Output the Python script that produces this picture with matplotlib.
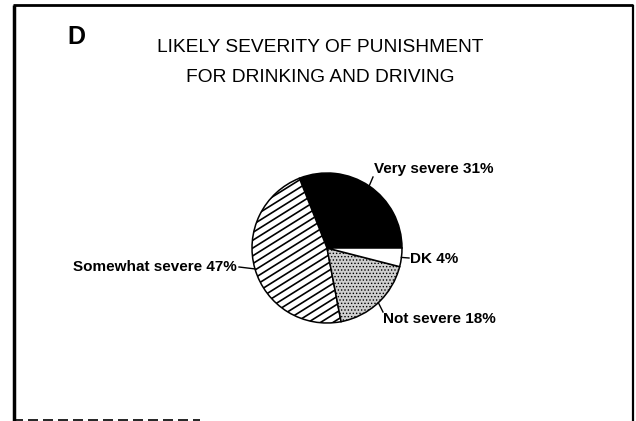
import numpy as np
import matplotlib
matplotlib.use('Agg')
import matplotlib.pyplot as plt

categories = ['Very severe', 'Somewhat severe', 'Not severe', 'DK']
values = [31, 47, 18, 4]
title_lines = ['LIKELY SEVERITY OF PUNISHMENT', 'FOR DRINKING AND DRIVING']
panel_letter = 'D'

W, H = 636, 421
def Y(y):
    return H - y

plt.rcParams['font.family'] = ['Liberation Sans', 'DejaVu Sans']
plt.rcParams['hatch.linewidth'] = 0.6
fig = plt.figure(figsize=(6.36, 4.21), dpi=100)
ax = fig.add_axes([0, 0, 1, 1])

cx, cy, r = 327, Y(248), 75
wedges, _ = ax.pie(values, startangle=0, counterclock=True, center=(cx, cy), radius=r,
                   colors=['black', 'white', '#cfcfcf', 'white'],
                   wedgeprops=dict(edgecolor='black', linewidth=1.1))
ax.set_xlim(0, W)
ax.set_ylim(0, H)
ax.set_aspect('equal')
ax.axis('off')

# stipple texture on "Not severe"
wedges[2].set_hatch('.....')

# diagonal hatch on "Somewhat severe"
ang = np.deg2rad(32)
d = np.array([np.cos(ang), np.sin(ang)])
nv = np.array([-np.sin(ang), np.cos(ang)])
c = np.array([cx, cy])
for k in np.arange(-1.5 * r, 1.5 * r, 6.6):
    p0 = c + nv * k - d * 2 * r
    p1 = c + nv * k + d * 2 * r
    ln, = ax.plot([p0[0], p1[0]], [p0[1], p1[1]], color='black', lw=1.2)
    ln.set_clip_path(wedges[1])

# labels with leader lines
label_pos = {
    'Very severe': ((373, 177), (374, 169), 'left'),
    'Somewhat severe': ((239, 267), (237, 267), 'right'),
    'Not severe': ((383, 312), (383, 319), 'left'),
    'DK': ((409, 258), (410, 259), 'left'),
}
start = 0.0
for cat, v in zip(categories, values):
    mid = np.deg2rad(start + v / sum(values) * 360 / 2)
    start += v / sum(values) * 360
    px, py = cx + r * np.cos(mid), cy + r * np.sin(mid)
    (ex, ey), (tx, ty), ha = label_pos[cat]
    ax.plot([px, ex], [py, Y(ey)], color='black', lw=1.0)
    ax.text(tx, Y(ty), f'{cat} {v}%', ha=ha, va='center', fontsize=11,
            fontweight='bold', color='black')

# titles
ax.text(67, Y(37), panel_letter, ha='left', va='center', fontsize=18, fontweight='bold')
ax.text(320, Y(47), title_lines[0], ha='center', va='center', fontsize=13.8)
ax.text(320, Y(77), title_lines[1], ha='center', va='center', fontsize=13.8)

# frame
ax.plot([13.5, 13.5], [Y(5), Y(421)], color='black', lw=2.5, solid_capstyle='butt')
ax.plot([13, 633], [Y(5), Y(5)], color='black', lw=2.0, solid_capstyle='butt')
ax.plot([633, 633], [Y(5), Y(421)], color='black', lw=1.6, solid_capstyle='butt')
ax.plot([13, 200], [Y(420), Y(420)], color='black', lw=1.2, ls=(0, (6, 3)))

fig.savefig('out.png', dpi=100)
